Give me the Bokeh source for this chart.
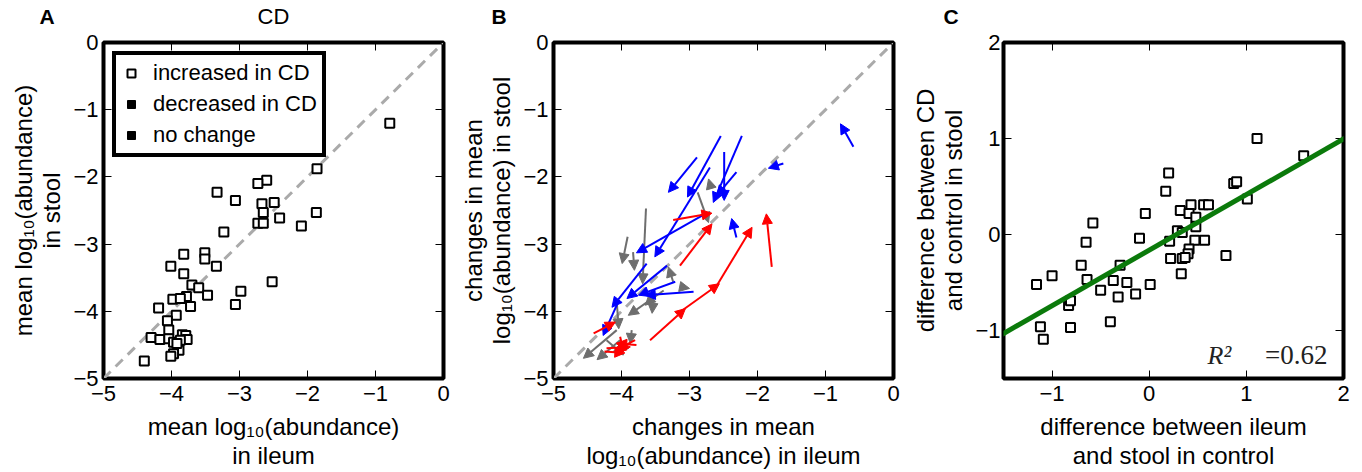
from bokeh.plotting import figure
from bokeh.layouts import row, column
from bokeh.models import (Range1d, FixedTicker, LinearAxis, Legend, LegendItem, Label,
                          Arrow, NormalHead, ColumnDataSource, Slope)
from bokeh.core.properties import value
from bokeh.embed import file_html
from bokeh.resources import INLINE

NAN = float("nan")

# ---------------- Panel A: mean log10 abundance, CD ----------------
a_ileum = [-0.79, -1.86, -1.87, -2.09, -2.60, -2.73, -2.49, -2.67, -2.65, -2.41, -2.73, -2.65,
           -3.33, -3.06, -3.23, -3.51, -3.51, -3.82, -4.01, -3.34, -3.82, -3.70, -3.60, -3.47,
           -3.78, -3.98, -3.87, -3.72, -4.19, -2.98, -3.06, -2.52, -3.93, -4.06, -4.04, -4.30,
           -4.17, -4.04, -3.97, -3.84, -3.79, -3.77, -3.87, -3.89, -3.97, -4.01, -4.40, -3.92]
a_stool = [-1.20, -1.88, -2.53, -2.73, -2.05, -2.10, -2.38, -2.40, -2.53, -2.61, -2.69, -2.69,
           -2.23, -2.35, -2.82, -3.13, -3.22, -3.15, -3.33, -3.33, -3.44, -3.61, -3.65, -3.76,
           -3.78, -3.82, -3.81, -3.93, -3.95, -3.70, -3.90, -3.56, -4.06, -4.14, -4.28, -4.39,
           -4.42, -4.41, -4.46, -4.35, -4.36, -4.42, -4.43, -4.58, -4.63, -4.67, -4.74, -4.48]
legend_labels = ["increased in CD", "decreased in CD", "no change"]

# ---------------- Panel B: arrows control -> CD ----------------
blue_x0 = [-0.59, -1.62, -2.89, -2.54, -2.23, -2.49, -2.31, -2.70, -2.77, -3.33, -3.63, -3.21, -2.94, -4.04, -2.31]
blue_y0 = [-1.55, -1.80, -1.71, -1.39, -1.39, -1.63, -1.93, -1.86, -2.55, -3.32, -3.29, -3.56, -3.71, -3.84, -2.90]
blue_x1 = [-0.78, -1.84, -3.31, -3.03, -2.65, -2.49, -2.60, -3.51, -3.78, -3.92, -4.14, -3.75, -3.65, -4.27, -2.38]
blue_y1 = [-1.21, -1.87, -2.23, -2.30, -2.38, -2.35, -2.28, -3.19, -3.13, -3.81, -3.94, -3.76, -3.76, -4.36, -2.62]

red_x0 = [-1.79, -3.58, -3.14, -2.60, -3.14, -3.24, -4.41, -4.22, -3.80, -4.02, -3.78, -4.25]
red_y0 = [-3.34, -4.43, -4.01, -3.62, -3.32, -2.64, -4.33, -4.55, -4.43, -4.38, -4.50, -4.60]
red_x1 = [-1.87, -3.06, -2.56, -2.08, -2.67, -2.67, -4.09, -3.87, -4.09, -3.97, -4.07, -3.95]
red_y1 = [-2.55, -3.96, -3.59, -2.75, -2.70, -2.54, -4.16, -4.53, -4.58, -4.60, -4.48, -4.62]

gray_x0 = [-3.64, -3.91, -3.83, -2.88, -2.70, -3.24, -3.10, -3.38, -3.48, -3.53, -4.07, -4.07, -4.02, -3.85, -3.97, -4.22]
gray_y0 = [-2.47, -2.89, -3.12, -2.23, -2.10, -3.56, -3.64, -3.69, -3.74, -3.79, -3.86, -4.28, -4.43, -4.28, -4.53, -4.43]
gray_x1 = [-3.69, -3.99, -3.81, -2.72, -2.72, -3.31, -3.00, -3.90, -3.65, -3.55, -4.04, -4.56, -4.36, -3.87, -4.04, -3.97]
gray_y1 = [-3.59, -3.29, -3.39, -2.68, -2.03, -3.34, -3.66, -4.06, -3.91, -4.03, -4.26, -4.70, -4.72, -4.48, -4.63, -4.65]

# ---------------- Panel C: differences ----------------
c_ctrl_diff = [1.11, 1.59, 0.87, 0.90, 1.01, 0.20, 0.17, -0.04, -0.58, 0.32, 0.43, 0.41, 0.48, 0.56,
               0.61, 0.48, 0.29, 0.34, 0.21, 0.47, 0.57, 0.41, 0.40, 0.22, 0.34, 0.37, 0.33, 0.79,
               -0.10, -0.65, -0.70, -0.30, -0.64, -0.37, -0.23, 0.01, -0.50, -0.32, -0.14, -0.40,
               -1.00, -1.16, -0.83, -0.81, -0.81, -1.12, -1.09]
c_cd_diff = [1.00, 0.82, 0.53, 0.55, 0.37, 0.64, 0.45, 0.22, 0.12, 0.25, 0.31, 0.22, 0.18, 0.31,
             0.31, 0.08, 0.04, 0.02, -0.07, -0.06, -0.06, -0.15, -0.20, -0.25, -0.25, -0.24, -0.41, -0.22,
             -0.04, -0.08, -0.32, -0.32, -0.47, -0.48, -0.50, -0.52, -0.58, -0.65, -0.62, -0.91,
             -0.43, -0.52, -0.74, -0.69, -0.97, -0.96, -1.09]
fit_slope = 0.579
fit_intercept = -0.163
r_squared = 0.62

ab_ticks = [-5, -4, -3, -2, -1, 0]
ab_tick_labels = ["\u22125", "\u22124", "\u22123", "\u22122", "\u22121", "0"]
c_ticks = [-1, 0, 1, 2]

panel_letters = ["A", "B", "C"]
panel_title = "CD"

FONT = "Liberation Sans"
TICK_FS = "22px"
LABEL_FS = "24px"

HEADER_H = 28
TOP = 14
BOTTOM = 93
FRAME_W = 340
FRAME_H = 336


def make_fig(left, right, xr, yr, ticks, xlabel, ylabel, ystand, overrides=None):
    p = figure(frame_width=FRAME_W, frame_height=FRAME_H,
               x_range=Range1d(*xr), y_range=Range1d(*yr),
               output_backend="svg", toolbar_location=None,
               min_border_left=left, min_border_right=right,
               min_border_top=TOP, min_border_bottom=BOTTOM,
               background_fill_color="white", border_fill_color="white")
    p.xgrid.visible = False
    p.ygrid.visible = False
    p.outline_line_color = "black"
    p.outline_line_width = 4
    p.outline_line_alpha = 1.0
    for ax, lab, ls, sd, lh in ((p.xaxis[0], xlabel, 7, 9, 1.1), (p.yaxis[0], ylabel, ystand, 5, 1.05)):
        ax.ticker = FixedTicker(ticks=ticks)
        ax.axis_line_color = None
        ax.major_tick_in = 8
        ax.major_tick_out = 0
        ax.major_tick_line_color = "black"
        ax.major_tick_line_width = 1
        ax.minor_tick_line_color = None
        ax.major_label_text_font = FONT
        ax.major_label_text_font_size = TICK_FS
        ax.major_label_text_color = "black"
        ax.major_label_standoff = ls
        ax.axis_label = lab
        ax.axis_label_text_font = FONT
        ax.axis_label_text_font_size = LABEL_FS
        ax.axis_label_text_font_style = "normal"
        ax.axis_label_text_color = "black"
        ax.axis_label_text_line_height = lh
        ax.axis_label_standoff = sd
        if overrides:
            ax.major_label_overrides = overrides
    for side in ("above", "right"):
        extra = LinearAxis(ticker=FixedTicker(ticks=ticks), axis_line_color=None,
                           major_tick_in=8, major_tick_out=0, major_tick_line_color="black",
                           minor_tick_line_color=None, major_label_text_font_size="0px",
                           major_label_standoff=0,
                           major_label_overrides={t: "" for t in ticks})
        p.add_layout(extra, side)
    return p


ab_over = {t: s for t, s in zip(ab_ticks, ab_tick_labels)}

# ---------- header (panel letters and title) ----------
hdr = figure(width=1349, height=HEADER_H, x_range=Range1d(0, 1349), y_range=Range1d(0, HEADER_H),
             output_backend="svg", toolbar_location=None, x_axis_type=None, y_axis_type=None,
             min_border=0, min_border_left=0, min_border_right=0, min_border_top=0,
             min_border_bottom=0, background_fill_color="white", border_fill_color="white")
hdr.outline_line_color = None
hdr.xgrid.visible = False
hdr.ygrid.visible = False
hdr.text(x=[39, 491, 943], y=[12, 12, 12], text=panel_letters, text_font=value(FONT),
         text_font_size="21px", text_font_style="bold", text_color="black",
         text_align="left", text_baseline="middle")
hdr.text(x=[273], y=[12], text=[panel_title], text_font=value(FONT), text_font_size="22px",
         text_color="black", text_align="center", text_baseline="middle")

# ---------- Panel A ----------
pA = make_fig(103, 13, (-5, 0), (-5, 0), ab_ticks,
              "mean log\u2081\u2080(abundance)\nin ileum",
              "mean log\u2081\u2080(abundance)\nin stool", 5, ab_over)
pA.line(x=[-5, 0], y=[-5, 0], line_color="#aaaaaa", line_width=3, line_dash="10 7")
r_inc = pA.scatter(x=a_ileum, y=a_stool, marker="square", size=9, fill_color="white",
                   line_color="black", line_width=2)
r_dec = pA.scatter(x=[NAN], y=[NAN], marker="square", size=9, fill_color="black", line_color="black")
r_non = pA.scatter(x=[NAN], y=[NAN], marker="square", size=9, fill_color="black", line_color="black")
leg = Legend(items=[LegendItem(label=legend_labels[0], renderers=[r_inc]),
                    LegendItem(label=legend_labels[1], renderers=[r_dec]),
                    LegendItem(label=legend_labels[2], renderers=[r_non])],
             location="top_left", margin=9, padding=5, spacing=5,
             glyph_width=20, glyph_height=26, label_height=26, label_standoff=12,
             label_text_font=FONT, label_text_font_size="22px", label_text_color="black",
             border_line_color="black", border_line_width=4, border_line_alpha=1.0,
             background_fill_color="white", background_fill_alpha=1.0)
pA.add_layout(leg, "center")

# ---------- Panel B ----------
pB = make_fig(97, 11, (-5, 0), (-5, 0), ab_ticks,
              "changes in mean\nlog\u2081\u2080(abundance) in ileum",
              "changes in mean\nlog\u2081\u2080(abundance) in stool", 5, ab_over)
pB.line(x=[-5, 0], y=[-5, 0], line_color="#aaaaaa", line_width=3, line_dash="10 7")
for col, xs0, ys0, xs1, ys1 in (("#6e6e6e", gray_x0, gray_y0, gray_x1, gray_y1),
                                ("#0000ff", blue_x0, blue_y0, blue_x1, blue_y1),
                                ("#ff0000", red_x0, red_y0, red_x1, red_y1)):
    src = ColumnDataSource(dict(x0=xs0, y0=ys0, x1=xs1, y1=ys1))
    pB.add_layout(Arrow(end=NormalHead(size=10, fill_color=col, line_color=col, line_width=1),
                        x_start="x0", y_start="y0", x_end="x1", y_end="y1", source=src,
                        line_color=col, line_width=2))

# ---------- Panel C ----------
pC = make_fig(99, 7, (-1.5, 2), (-1.5, 2), c_ticks,
              "difference between ileum\nand stool in control",
              "difference between CD\nand control in stool", 3)
pC.scatter(x=c_ctrl_diff, y=c_cd_diff, marker="square", size=9, fill_color="white",
           line_color="black", line_width=2)
pC.add_layout(Slope(gradient=fit_slope, y_intercept=fit_intercept, line_color="#0b7a0b",
                    line_width=5))
pC.add_layout(Label(x=0.60, y=-1.26, text="R\u00b2", text_align="left",
                    text_baseline="alphabetic", text_font="Liberation Serif",
                    text_font_style="italic", text_font_size="26px", text_color="#222222"))
pC.add_layout(Label(x=1.835, y=-1.26, text="=%.2f" % r_squared, text_align="right",
                    text_baseline="alphabetic", text_font="Liberation Serif",
                    text_font_size="27px", text_color="#222222"))

layout = column(hdr, row(pA, pB, pC))
open("out.html", "w").write(file_html(layout, INLINE))
